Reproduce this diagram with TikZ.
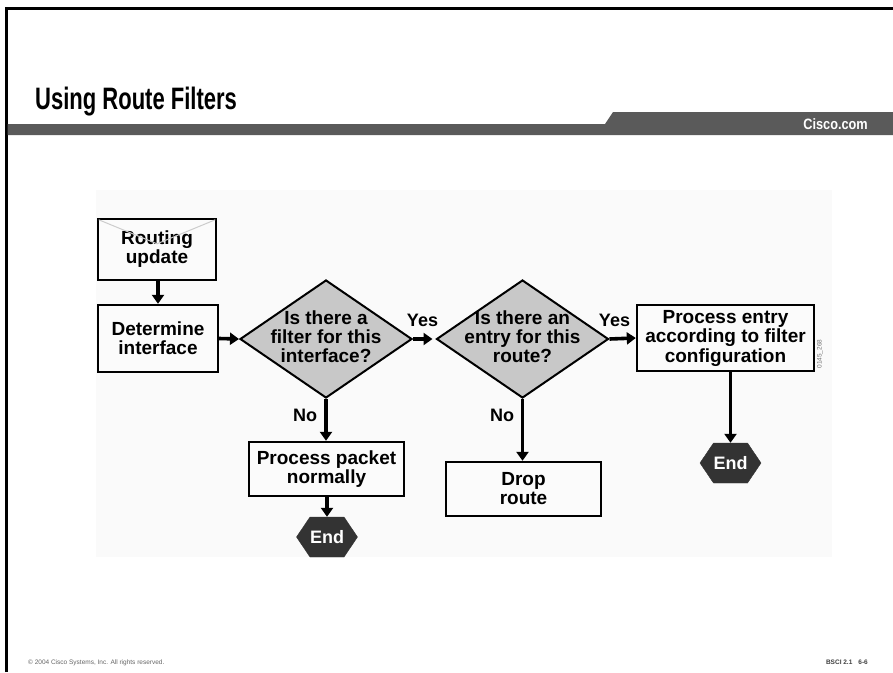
\documentclass[tikz,border=0pt]{standalone}
\usepackage{fontspec}
\usepackage{graphicx}
\setmainfont{Liberation Sans}
\usetikzlibrary{arrows.meta,shapes.geometric,shapes.symbols,calc}
\definecolor{bargray}{HTML}{5A5A5A}
\definecolor{boxfill}{HTML}{FBFBFB}
\definecolor{diafill}{HTML}{C8C8C8}
\definecolor{endfill}{HTML}{333333}
\definecolor{flap}{HTML}{CCCCCC}
\definecolor{backdrop}{HTML}{FAFAFA}
\newcommand\dlines[1]{\makebox[0pt]{\begin{tabular}{@{}c@{}}#1\end{tabular}}}
\tikzset{
  stepbox/.style={draw, line width=2.4pt, fill=boxfill, align=center, inner sep=0pt,
    font=\bfseries\fontsize{19}{19}\selectfont},
  decision/.style={diamond, draw, line width=2pt, fill=diafill, inner sep=0pt,
    minimum width=172pt, minimum height=118pt, font=\bfseries\fontsize{19}{18}\selectfont},
  endnode/.style={signal, signal to=east and west, signal pointer angle=112,
    fill=endfill, draw=endfill, text=white, inner sep=0pt, minimum width=55pt,
    minimum height=40pt, font=\bfseries\fontsize{18}{18}\selectfont},
  flow/.style={line width=3.6pt, -{Triangle[length=9pt,width=12pt]}},
  lbl/.style={font=\bfseries\fontsize{18}{18}\selectfont, inner sep=0pt},
}
\begin{document}
\begin{tikzpicture}[x=1pt,y=-1pt]
\useasboundingbox (0,0) rectangle (893,672);
\fill[white] (0,0) rectangle (893,672);
% frame
\draw[line width=3pt] (6,672) -- (6,8) -- (893,8);
% header bar
\fill[bargray] (7.5,124) -- (605,124) -- (613,112) -- (893,112) -- (893,135) -- (7.5,135) -- cycle;
\node[anchor=east, text=white, font=\bfseries\fontsize{15}{15}\selectfont, inner sep=0pt] (cisco) at (868,124) {\scalebox{0.85}[1]{Cisco.com}};
\node[anchor=base west, font=\bfseries\fontsize{31}{31}\selectfont, inner sep=0pt] (title) at (35,109) {\scalebox{0.71}[1]{Using Route Filters}};
% diagram backdrop
\fill[backdrop] (96,190) rectangle (832,557);
% nodes
\node[stepbox, minimum width=118pt, minimum height=61pt] (ru) at (157,249.5) {Routing\\update};
\draw[flap, line width=1pt] ([shift={(2,2)}]ru.north west) -- ($(ru.north)+(0,26)$) -- ([shift={(-2,2)}]ru.north east);
\node[stepbox, minimum width=120pt, minimum height=67pt] (di) at (158,338.5) {Determine\\interface};
\node[decision] (d1) at (326,339) {\dlines{Is there a\\filter for this\\interface?}};
\node[decision] (d2) at (522.5,339) {\dlines{Is there an\\entry for this\\route?}};
\node[stepbox, minimum width=177pt, minimum height=66pt, font=\bfseries\fontsize{19}{19.5}\selectfont] (pe) at (725.5,338) {Process entry\\according to filter\\configuration};
\node[stepbox, minimum width=155pt, minimum height=54pt] (pp) at (326.5,469) {Process packet\\normally};
\node[stepbox, minimum width=155pt, minimum height=54pt] (dr) at (523.5,489) {Drop\\route};
\node[endnode] (e1) at (327,537) {End};
\node[endnode] (e2) at (730.5,463) {End};
% connectors
\draw[flow] (ru.south -| di.north) -- (di.north);
\draw[flow] (di.east) -- (d1.west);
\draw[flow, shorten >=3pt] (d1.east) -- (d2.west);
\draw[flow] (d2.east) -- (pe.west);
\draw[flow] (d1.south) -- (pp.north -| d1.south);
\draw[flow] (d2.south) -- (dr.north -| d2.south);
\draw[flow] (pp.south -| e1.north) -- (e1.north);
\draw[flow] (pe.south -| e2.north) -- (e2.north);
% labels
\node[lbl] (y1) at (422.5,320) {Yes};
\node[lbl] (y2) at (614.5,320) {Yes};
\node[lbl] (n1) at (305,415) {No};
\node[lbl] (n2) at (502,415) {No};
\node[rotate=90, text=black!55, font=\fontsize{6.5}{6.5}\selectfont, inner sep=0pt] (fig) at (820,354) {0145\_268};
% footer
\node[anchor=base west, text=black!60, font=\fontsize{6.5}{6.5}\selectfont, inner sep=0pt] (copy) at (28,664) {© 2004 Cisco Systems, Inc. All rights reserved.};
\node[anchor=base east, text=black!75, font=\bfseries\fontsize{6.5}{6.5}\selectfont, inner sep=0pt] (bsci) at (868,664) {BSCI 2.1\hspace{6pt}6-6};
\end{tikzpicture}
\end{document}
